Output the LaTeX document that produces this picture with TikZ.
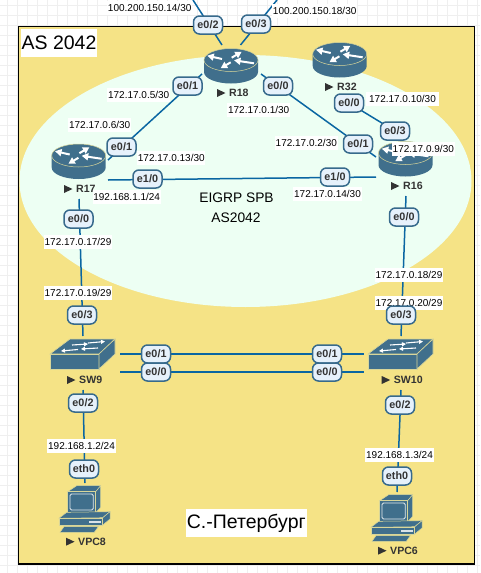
\documentclass[tikz,border=0pt]{standalone}
\usepackage{fontspec}
\setmainfont{Liberation Sans}
\usetikzlibrary{arrows.meta,calc}
\definecolor{devblue}{HTML}{406F8C}
\definecolor{devrim}{HTML}{D8D69A}
\definecolor{linkblue}{HTML}{0A66A2}
\definecolor{pillfill}{HTML}{E6F1FB}
\definecolor{pillline}{HTML}{376A8C}
\definecolor{areayellow}{HTML}{F5E386}
\definecolor{areamint}{HTML}{EDFFF3}
\definecolor{gridgrey}{HTML}{EFEFEF}
\definecolor{darktext}{HTML}{333333}
\tikzset{
  link/.style={draw=linkblue,line width=1.5pt},
  pill/.style={draw=pillline,fill=pillfill,line width=1.5pt,rounded corners=6pt,minimum width=29pt,minimum height=18pt,inner sep=0pt,text=darktext,font=\fontsize{10.8}{12}\selectfont\bfseries},
  ip/.style={fill=white,inner xsep=0.8pt,inner ysep=0pt,minimum height=14pt,text=black,font=\fontsize{10}{12}\selectfont},
  devname/.style={inner sep=0pt,anchor=west,text=darktext,font=\fontsize{10.6}{12}\selectfont\bfseries},
  bigtext/.style={fill=white,inner xsep=1pt,inner ysep=0pt,minimum height=28pt,text=black,font=\fontsize{19.5}{22}\selectfont},
  areatext/.style={inner sep=0pt,text=black,font=\fontsize{13.8}{16}\selectfont},
  rarrow/.style={draw=white,line width=2pt,-{Triangle[length=6.5pt,width=7pt]}},
  sarrow/.style={draw=white,line width=1.1pt,-{Triangle[length=4pt,width=4pt]}},
  router/.pic={
    \fill[devblue] (-27,-6) -- (-27,6) arc[start angle=180,end angle=360,x radius=27pt,y radius=11.5pt] -- (27,-6) -- cycle;
    \filldraw[fill=devblue,draw=devrim,line width=.5pt] (0,-6) ellipse[x radius=27pt,y radius=11.5pt];
    \draw[rarrow] (-9,-7) -- (-23.7,-10.3);
    \draw[rarrow] (0.7,-8.3) -- (10.7,-14.3);
    \draw[rarrow] (23,-2.7) -- (3,-5.7);
    \draw[rarrow] (-0.3,-3.7) -- (-10.3,2.3);
  },
  switchdev/.pic={
    \filldraw[fill=devblue,draw=devrim,line width=.6pt] (0,15) -- (20,0) -- (65,0) -- (49,15) -- cycle;
    \filldraw[fill=devblue,draw=devrim,line width=.6pt] (0,15) rectangle (49,30);
    \filldraw[fill=devblue,draw=devrim,line width=.6pt] (49,15) -- (65,0) -- (65,15) -- (49,30) -- cycle;
    \draw[sarrow] (22,6) -- (38,5);
    \draw[sarrow] (38,4) -- (55,2.5);
    \draw[sarrow] (48,9) -- (31,10);
    \draw[sarrow] (28,10.5) -- (11,12);
  },
  pcdev/.pic={
    \filldraw[fill=devblue,draw=devrim,line width=.5pt] (17.7,21.7) -- (26.7,15.7) -- (50.7,15.7) -- (45.7,21.7) -- cycle;
    \filldraw[fill=devblue,draw=devrim,line width=.5pt] (45.7,21.7) -- (50.7,15.7) -- (50.7,37.3) -- (45.7,42.7) -- cycle;
    \filldraw[fill=devblue,draw=devrim,line width=.5pt] (17.7,21.7) rectangle (45.7,42.7);
    \draw[draw=white!85!devblue,line width=.8pt,rounded corners=1.5pt] (20,24) rectangle (43.3,40);
    \filldraw[fill=devblue,draw=devrim,line width=.5pt] (9,48.3) -- (16.7,42.3) -- (60,41.7) -- (52.7,47.7) -- cycle;
    \filldraw[fill=devblue,draw=devrim,line width=.5pt] (52.7,47.7) -- (60,41.7) -- (60,49) -- (52.7,55) -- cycle;
    \filldraw[fill=devblue,draw=devrim,line width=.5pt] (9,48.3) rectangle (52.7,55);
    \fill[white!80!devblue] (39.3,51) rectangle (50.7,53);
    \filldraw[fill=devblue,draw=devrim,line width=.5pt] (14,56.7) -- (48.3,56.7) -- (44.3,62.3) -- (10,62.3) -- cycle;
  }
}
\newcommand{\devlabel}[4]{%
  \node[devname] (#1) at (#2,#3) {#4};
  \fill[darktext] ($(#1.west)+(-12pt,-4pt)$) -- ($(#1.west)+(-3.5pt,0pt)$) -- ($(#1.west)+(-12pt,4pt)$) -- cycle;
}
\begin{document}
\begin{tikzpicture}[x=1pt,y=-1pt]
\useasboundingbox (0,0) rectangle (480,573);
\fill[white] (0,0) rectangle (480,573);
% page grid
\foreach \gx in {7.5,17.5,...,477.5} \draw[gridgrey,line width=.8pt] (\gx,0) -- (\gx,573);
\foreach \gy in {5,15,...,565} \draw[gridgrey,line width=.8pt] (0,\gy) -- (480,\gy);
% areas
\filldraw[fill=areayellow,draw=black,line width=1.2pt] (18.5,26.5) rectangle (474.5,564);
\fill[areamint] (245.5,181) ellipse[x radius=226pt,y radius=126pt];

% devices
\pic at (78.7,161.5) {router};
\pic at (231,66) {router};
\pic at (339.7,60) {router};
\pic at (405.5,159) {router};
\pic at (50,339) {switchdev};
\pic at (368,339) {switchdev};
\pic at (50,470) {pcdev};
\pic at (362,479) {pcdev};

% connector ends
\coordinate (r18a) at (222,45);   \coordinate (wanA) at (193,0);
\coordinate (r18b) at (240.5,45); \coordinate (wanB) at (277,0);
\coordinate (r18c) at (202,74);   \coordinate (r17a) at (108,160);
\coordinate (r18d) at (261,74);   \coordinate (r16a) at (376,157);
\coordinate (r32a) at (349,103);  \coordinate (r16b) at (395,131);
\coordinate (r17b) at (108,180);  \coordinate (r16c) at (376,177);
\coordinate (r17c) at (79,199);   \coordinate (sw9a) at (83,336);
\coordinate (r16d) at (406,196);  \coordinate (sw10a) at (401,336);
\coordinate (sw9b) at (120,354);  \coordinate (sw10b) at (364,354);
\coordinate (sw9c) at (120,372);  \coordinate (sw10c) at (364,372);
\coordinate (sw9d) at (83,390);   \coordinate (vpc8a) at (85,483);
\coordinate (sw10d) at (401,390); \coordinate (vpc6a) at (397,492);

\draw[link] (r18a) -- (wanA);
\draw[link] (r18b) -- (wanB);
\draw[link] (r18c) -- (r17a);
\draw[link] (r18d) -- (r16a);
\draw[link] (r32a) -- (r16b);
\draw[link] (r17b) -- (r16c);
\draw[link] (r17c) -- (sw9a);
\draw[link] (r16d) -- (sw10a);
\draw[link] (sw9b) -- (sw10b);
\draw[link] (sw9c) -- (sw10c);
\draw[link] (sw9d) -- (vpc8a);
\draw[link] (sw10d) -- (vpc6a);

% device names
\devlabel{nR17}{76}{189}{R17}
\devlabel{nR18}{229}{93}{R18}
\devlabel{nR32}{337}{87}{R32}
\devlabel{nR16}{403}{186}{R16}
\devlabel{nSW9}{79}{380}{SW9}
\devlabel{nSW10}{393.7}{380}{SW10}
\devlabel{nVPC8}{78}{541.7}{VPC8}
\devlabel{nVPC6}{390}{550.7}{VPC6}

% address labels
\node[ip] (ipA) at (149.7,8) {100.200.150.14/30};
\node[ip] (ipB) at (314.7,11) {100.200.150.18/30};
\node[ip] (ipC) at (138.7,95) {172.17.0.5/30};
\node[ip] (ipD) at (99.7,125) {172.17.0.6/30};
\node[ip] (ipE) at (171.3,158) {172.17.0.13/30};
\node[ip] (ipF) at (126.7,197) {192.168.1.1/24};
\node[ip] (ipG) at (258.7,110) {172.17.0.1/30};
\node[ip] (ipH) at (306.3,143) {172.17.0.2/30};
\node[ip] (ipI) at (327.5,194) {172.17.0.14/30};
\node[ip,inner xsep=3pt] (ipJ) at (402.5,99) {172.17.0.10/30};
\node[ip] (ipK) at (423.3,149) {172.17.0.9/30};
\node[ip] (ipL) at (78,242) {172.17.0.17/29};
\node[ip] (ipM) at (78,293) {172.17.0.19/29};
\node[ip] (ipN) at (409,275) {172.17.0.18/29};
\node[ip] (ipO) at (409,303) {172.17.0.20/29};
\node[ip] (ipP) at (81.5,446) {192.168.1.2/24};
\node[ip] (ipQ) at (399.5,455) {192.168.1.3/24};

% interface pills
\node[pill] (pA) at (208,25) {e0/2};
\node[pill] (pB) at (256,24) {e0/3};
\node[pill] (pC) at (187.5,86) {e0/1};
\node[pill] (pD) at (121.5,147) {e0/1};
\node[pill] (pE) at (278,86) {e0/0};
\node[pill] (pF) at (358,144) {e0/1};
\node[pill] (pG) at (349,103) {e0/0};
\node[pill] (pH) at (395,131) {e0/3};
\node[pill] (pI) at (147.5,179) {e1/0};
\node[pill] (pJ) at (335,177) {e1/0};
\node[pill] (pK) at (78.5,219) {e0/0};
\node[pill] (pL) at (82,315) {e0/3};
\node[pill] (pM) at (404,217) {e0/0};
\node[pill] (pN) at (401,315) {e0/3};
\node[pill] (pO) at (156,354) {e0/1};
\node[pill] (pP) at (156,372) {e0/0};
\node[pill] (pQ) at (327,354) {e0/1};
\node[pill] (pR) at (327,372) {e0/0};
\node[pill] (pS) at (83,403) {e0/2};
\node[pill] (pT) at (84,469) {eth0};
\node[pill] (pU) at (400,405) {e0/2};
\node[pill] (pV) at (397,476) {eth0};

% area captions
\node[bigtext] (tAS) at (59,43) {AS 2042};
\node[bigtext] (tSPb) at (246.3,523) {С.-Петербург};
\node[areatext] (tE) at (236.5,198) {EIGRP SPB};
\node[areatext] (tF) at (236,218) {AS2042};
\end{tikzpicture}
\end{document}
